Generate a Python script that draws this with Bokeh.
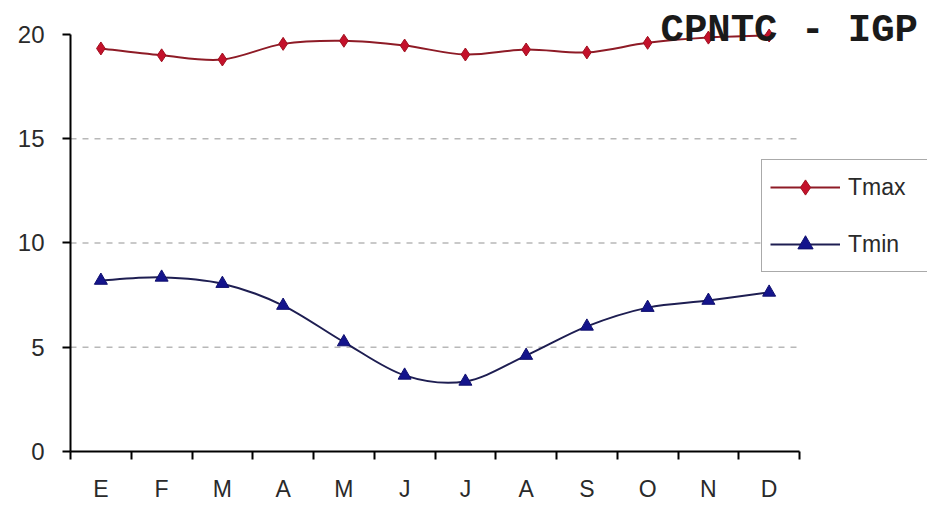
import numpy as np
from bokeh.plotting import figure
from bokeh.models import Range1d, FixedTicker, Label, Legend, LegendItem, ColumnDataSource
from bokeh.embed import file_html
from bokeh.resources import INLINE

# ---- data ----
months = ["E", "F", "M", "A", "M", "J", "J", "A", "S", "O", "N", "D"]
tmax = [19.33, 19.0, 18.8, 19.55, 19.7, 19.47, 19.04, 19.28, 19.14, 19.6, 19.85, 19.95]
tmin = [8.2, 8.35, 8.05, 7.0, 5.25, 3.65, 3.36, 4.6, 6.0, 6.9, 7.24, 7.63]
y_ticks = [0, 5, 10, 15, 20]
grid_levels = [5, 10, 15]
series_names = ["Tmax", "Tmin"]
title_text = "CPNTC - IGP"

x = np.arange(len(months), dtype=float)
x_lo, x_hi = x[0] - 0.5, x[-1] + 0.5


def smooth(xs, ys):
    """Bezier control points (Catmull-Rom style smoothing, like a spreadsheet 'smoothed line')."""
    P = np.column_stack([xs, ys])
    Pm = np.vstack([P[:1], P, P[-1:]])
    p0, p1, pm, pp = Pm[1:-2], Pm[2:-1], Pm[:-3], Pm[3:]
    c0 = p0 + (p1 - pm) / 6.0
    c1 = p1 - (pp - p0) / 6.0
    return ColumnDataSource(dict(x0=p0[:, 0], y0=p0[:, 1], x1=p1[:, 0], y1=p1[:, 1],
                                 cx0=c0[:, 0], cy0=c0[:, 1], cx1=c1[:, 0], cy1=c1[:, 1]))


p = figure(width=927, height=506, output_backend="svg", toolbar_location=None,
           x_range=Range1d(x_lo, x_lo + 857 / 60.75), y_range=Range1d(0, 21.63),
           min_border_left=70, min_border_right=0, min_border_top=0, min_border_bottom=55)
p.outline_line_color = None
p.background_fill_color = "white"
p.border_fill_color = "white"
p.xgrid.visible = False
p.ygrid.visible = False

# dashed horizontal grid lines limited to the axis extent
p.segment(x0=[x_lo] * len(grid_levels), x1=[x_hi] * len(grid_levels),
          y0=grid_levels, y1=grid_levels, line_color="#b8b8b8", line_width=1.5,
          line_dash="6 6")

# series
r_max_line = p.bezier(source=smooth(x, tmax), x0="x0", y0="y0", x1="x1", y1="y1",
                      cx0="cx0", cy0="cy0", cx1="cx1", cy1="cy1",
                      line_color="#8e1b26", line_width=2)
r_max_pts = p.scatter(x, tmax, marker="diamond", size=13, fill_color="#c4112b",
                      line_color="#a0101f", line_width=1)
r_min_line = p.bezier(source=smooth(x, tmin), x0="x0", y0="y0", x1="x1", y1="y1",
                      cx0="cx0", cy0="cy0", cx1="cx1", cy1="cy1",
                      line_color="#1e1e52", line_width=2)
r_min_pts = p.scatter(x, tmin, marker="triangle", size=13, fill_color="#14148c",
                      line_color="#10106e", line_width=1)

# axes
font = "Liberation Sans"
xa = p.xaxis[0]
xa.ticker = FixedTicker(ticks=list(x), minor_ticks=list(np.arange(x_lo, x_hi + 0.01, 1.0)))
xa.major_label_overrides = {int(i): m for i, m in enumerate(months)}
xa.bounds = (x_lo, x_hi)
xa.axis_line_color = "black"
xa.axis_line_width = 2
xa.major_tick_out = 0
xa.major_tick_in = 0
xa.minor_tick_out = 8
xa.minor_tick_in = 0
xa.minor_tick_line_color = "black"
xa.minor_tick_line_width = 2
xa.major_label_standoff = 16
xa.major_label_text_font = font
xa.major_label_text_font_size = "23px"
xa.major_label_text_color = "#2a2a2a"

ya = p.yaxis[0]
ya.ticker = FixedTicker(ticks=y_ticks)
ya.bounds = (0, 20)
ya.axis_line_color = "black"
ya.axis_line_width = 2
ya.major_tick_out = 8
ya.major_tick_in = 0
ya.major_tick_line_color = "black"
ya.major_tick_line_width = 2
ya.minor_tick_out = 0
ya.minor_tick_in = 0
ya.major_label_standoff = 18
ya.major_label_text_font = font
ya.major_label_text_font_size = "24px"
ya.major_label_text_color = "#2a2a2a"

# title text drawn over the plot, top right
p.add_layout(Label(x=590, y=421, x_units="screen", y_units="screen", text=title_text,
                   text_font="Liberation Mono", text_font_style="bold",
                   text_font_size="39px", text_color="#1a1a1a", text_baseline="middle"))

legend = Legend(items=[LegendItem(label=series_names[0], renderers=[r_max_line, r_max_pts]),
                       LegendItem(label=series_names[1], renderers=[r_min_line, r_min_pts])],
                location=(691, 179), orientation="vertical",
                border_line_color="#555555", border_line_width=1.5,
                background_fill_color="white", background_fill_alpha=1,
                label_text_font=font, label_text_font_size="23px", label_text_color="#2a2a2a",
                glyph_width=70, glyph_height=38, label_height=38, label_width=100,
                label_standoff=8, padding=8, spacing=19, margin=0)
p.add_layout(legend)

open("out.html", "w").write(file_html(p, INLINE))
